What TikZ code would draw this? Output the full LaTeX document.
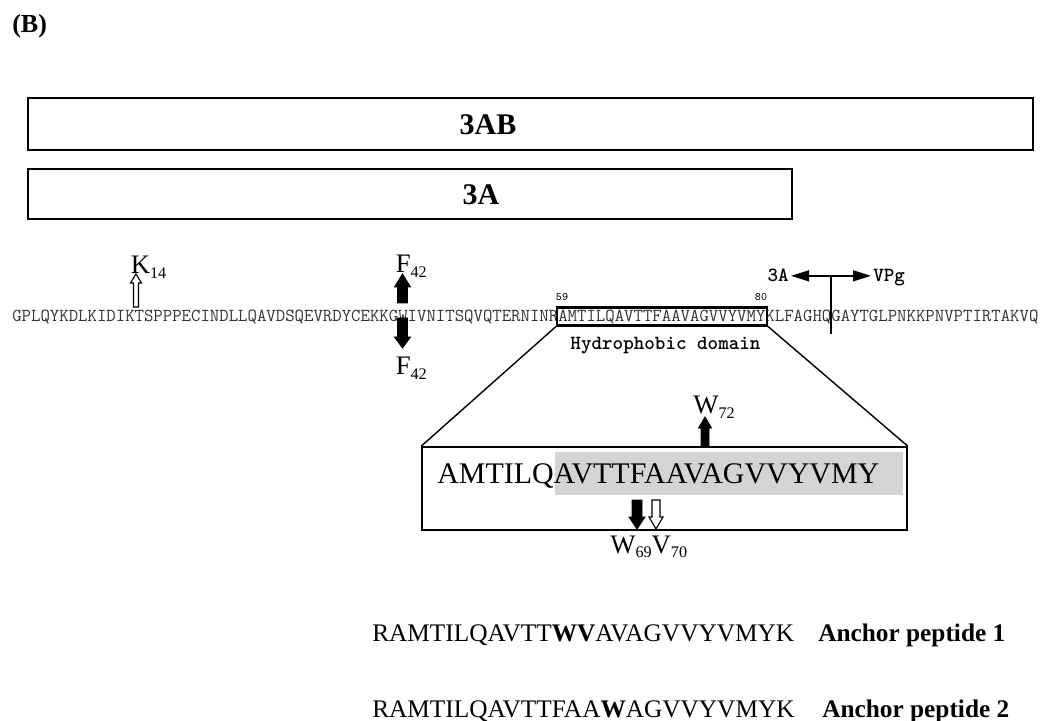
\documentclass[tikz,border=0pt]{standalone}
\usepackage{fontspec}
\setmainfont{Liberation Serif}
\usetikzlibrary{arrows.meta}

\newcommand{\ressub}[1]{\raisebox{-0.11cm}{\fontsize{11.5pt}{11.5pt}\selectfont #1}}

\tikzset{
  pics/blockarrow/.style args={#1/#2/#3/#4}{code={
    \draw[pic actions] (0,0) -- (#3/2,#2) -- (#4/2,#2) -- (#4/2,#1)
      -- (-#4/2,#1) -- (-#4/2,#2) -- (-#3/2,#2) -- cycle;
  }},
}

\begin{document}
\begin{tikzpicture}[x=0.025cm, y=-0.025cm, >=Triangle,
  every node/.style={inner sep=0pt},
  protbox/.style={draw, line width=1.1pt},
  boxlabel/.style={font=\fontsize{21.3pt}{22pt}\selectfont\bfseries},
  seqfont/.style={font=\fontsize{13pt}{13pt}\selectfont\ttfamily, text=black!80},
  monobold/.style={font=\fontsize{14.3pt}{15pt}\selectfont\ttfamily\bfseries},
  reslabel/.style={font=\fontsize{19pt}{20pt}\selectfont, anchor=base west},
  peptide/.style={font=\fontsize{18pt}{18pt}\selectfont, anchor=base west},
  solidarrow/.style={fill=black, draw=black, line width=0.6pt},
  openarrow/.style={fill=white, draw=black, line width=0.8pt}]

  \useasboundingbox (0,0) rectangle (1040,721);

  % Titre
  \node[anchor=base west, font=\fontsize{18.5pt}{19pt}\selectfont\bfseries] (title) at (12,33) {(B)};

  % Proteines 3AB et 3A
  \node[protbox, minimum width=25.125cm, minimum height=1.3cm] (box3ab) at (530.5,124) {};
  \node[boxlabel] (lbl3ab) at (488,125) {3AB};
  \node[protbox, minimum width=19.1cm, minimum height=1.25cm] (box3a) at (410,194) {};
  \node[boxlabel] (lbl3a) at (481,195) {3A};

  % Sequence
  \node[seqfont, anchor=base west] (seq) at (12,322)
    {GPLQYKDLKIDIKTSPPPECINDLLQAVDSQEVRDYCEKKGWIVNITSQVQTERNINRAMTILQAVTTFAAVAGVVYVMYKLFAGHQGAYTGLPNKKPNVPTIRTAKVQ};
  \node[draw, line width=1.6pt, minimum width=5.25cm, minimum height=0.45cm] (hyd) at (662,316.5) {};
  \node[font=\fontsize{8.1pt}{9pt}\selectfont\ttfamily] (n59) at (562,297) {59};
  \node[font=\fontsize{8.1pt}{9pt}\selectfont\ttfamily] (n80) at (761,297) {80};
  \node[monobold, anchor=base] (hydlbl) at (665.5,349.5) {Hydrophobic domain};

  % Clivage 3A / VPg
  \node[monobold, anchor=base east, inner sep=0.05cm] (cut3a) at (791,282) {3A};
  \node[monobold, anchor=base west, inner sep=0.05cm] (cutvpg) at (871,282) {VPg};
  \draw[line width=1.4pt, {Triangle[length=0.45cm, width=0.27cm]}-{Triangle[length=0.45cm, width=0.27cm]}]
    (cut3a.east) -- (cutvpg.west |- cut3a.east);
  \coordinate (cuttop) at (831,277);
  \coordinate (cutbot) at (831,334);
  \draw[line width=1.4pt] (cuttop) -- (cutbot);

  % Residus
  \pic[openarrow] at (136,274) {blockarrow=33/9/11/5};
  \node[reslabel] (k14) at (130.5,274) {K\ressub{14}};
  \pic[solidarrow] at (402.5,274) {blockarrow=29/13/16/10};
  \node[reslabel] (f42up) at (395.5,273) {F\ressub{42}};
  \pic[solidarrow, yscale=-1] at (402.5,348) {blockarrow=30/11/16/10};
  \node[reslabel] (f42dn) at (395.5,375) {F\ressub{42}};

  % Agrandissement
  \node[draw, line width=1.1pt, minimum width=12.125cm, minimum height=2.075cm] (zoombox) at (664.5,488.5) {};
  \draw[line width=1pt] (hyd.south west) -- (zoombox.north west);
  \draw[line width=1pt] (hyd.south east) -- (zoombox.north east);
  \fill[black!17] (555,452) rectangle (903,495);
  \node[anchor=base west, font=\fontsize{21.3pt}{22pt}\selectfont] (zoomseq) at (437,483) {AMTILQAVTTFAAVAGVVYVMY};

  \pic[solidarrow] at (705,417) {blockarrow=30/11/13/8};
  \node[reslabel] (w72) at (693,414) {W\ressub{72}};
  \pic[solidarrow, yscale=-1] at (637,529) {blockarrow=29/12/16/10};
  \pic[openarrow, yscale=-1] at (656,529) {blockarrow=29/12/14/8};
  \node[reslabel] (w69v70) at (610,553) {W\ressub{69}V\ressub{70}};

  % Peptides
  \node[peptide] (pep1) at (372,641) {RAMTILQAVTT\textbf{WV}AVAGVVYVMYK};
  \node[peptide, font=\fontsize{18pt}{18pt}\selectfont\bfseries] (pep1lbl) at (818,641) {Anchor peptide 1};
  \node[peptide] (pep2) at (372,717) {RAMTILQAVTTFAA\textbf{W}AGVVYVMYK};
  \node[peptide, font=\fontsize{18pt}{18pt}\selectfont\bfseries] (pep2lbl) at (822,717) {Anchor peptide 2};
\end{tikzpicture}
\end{document}
